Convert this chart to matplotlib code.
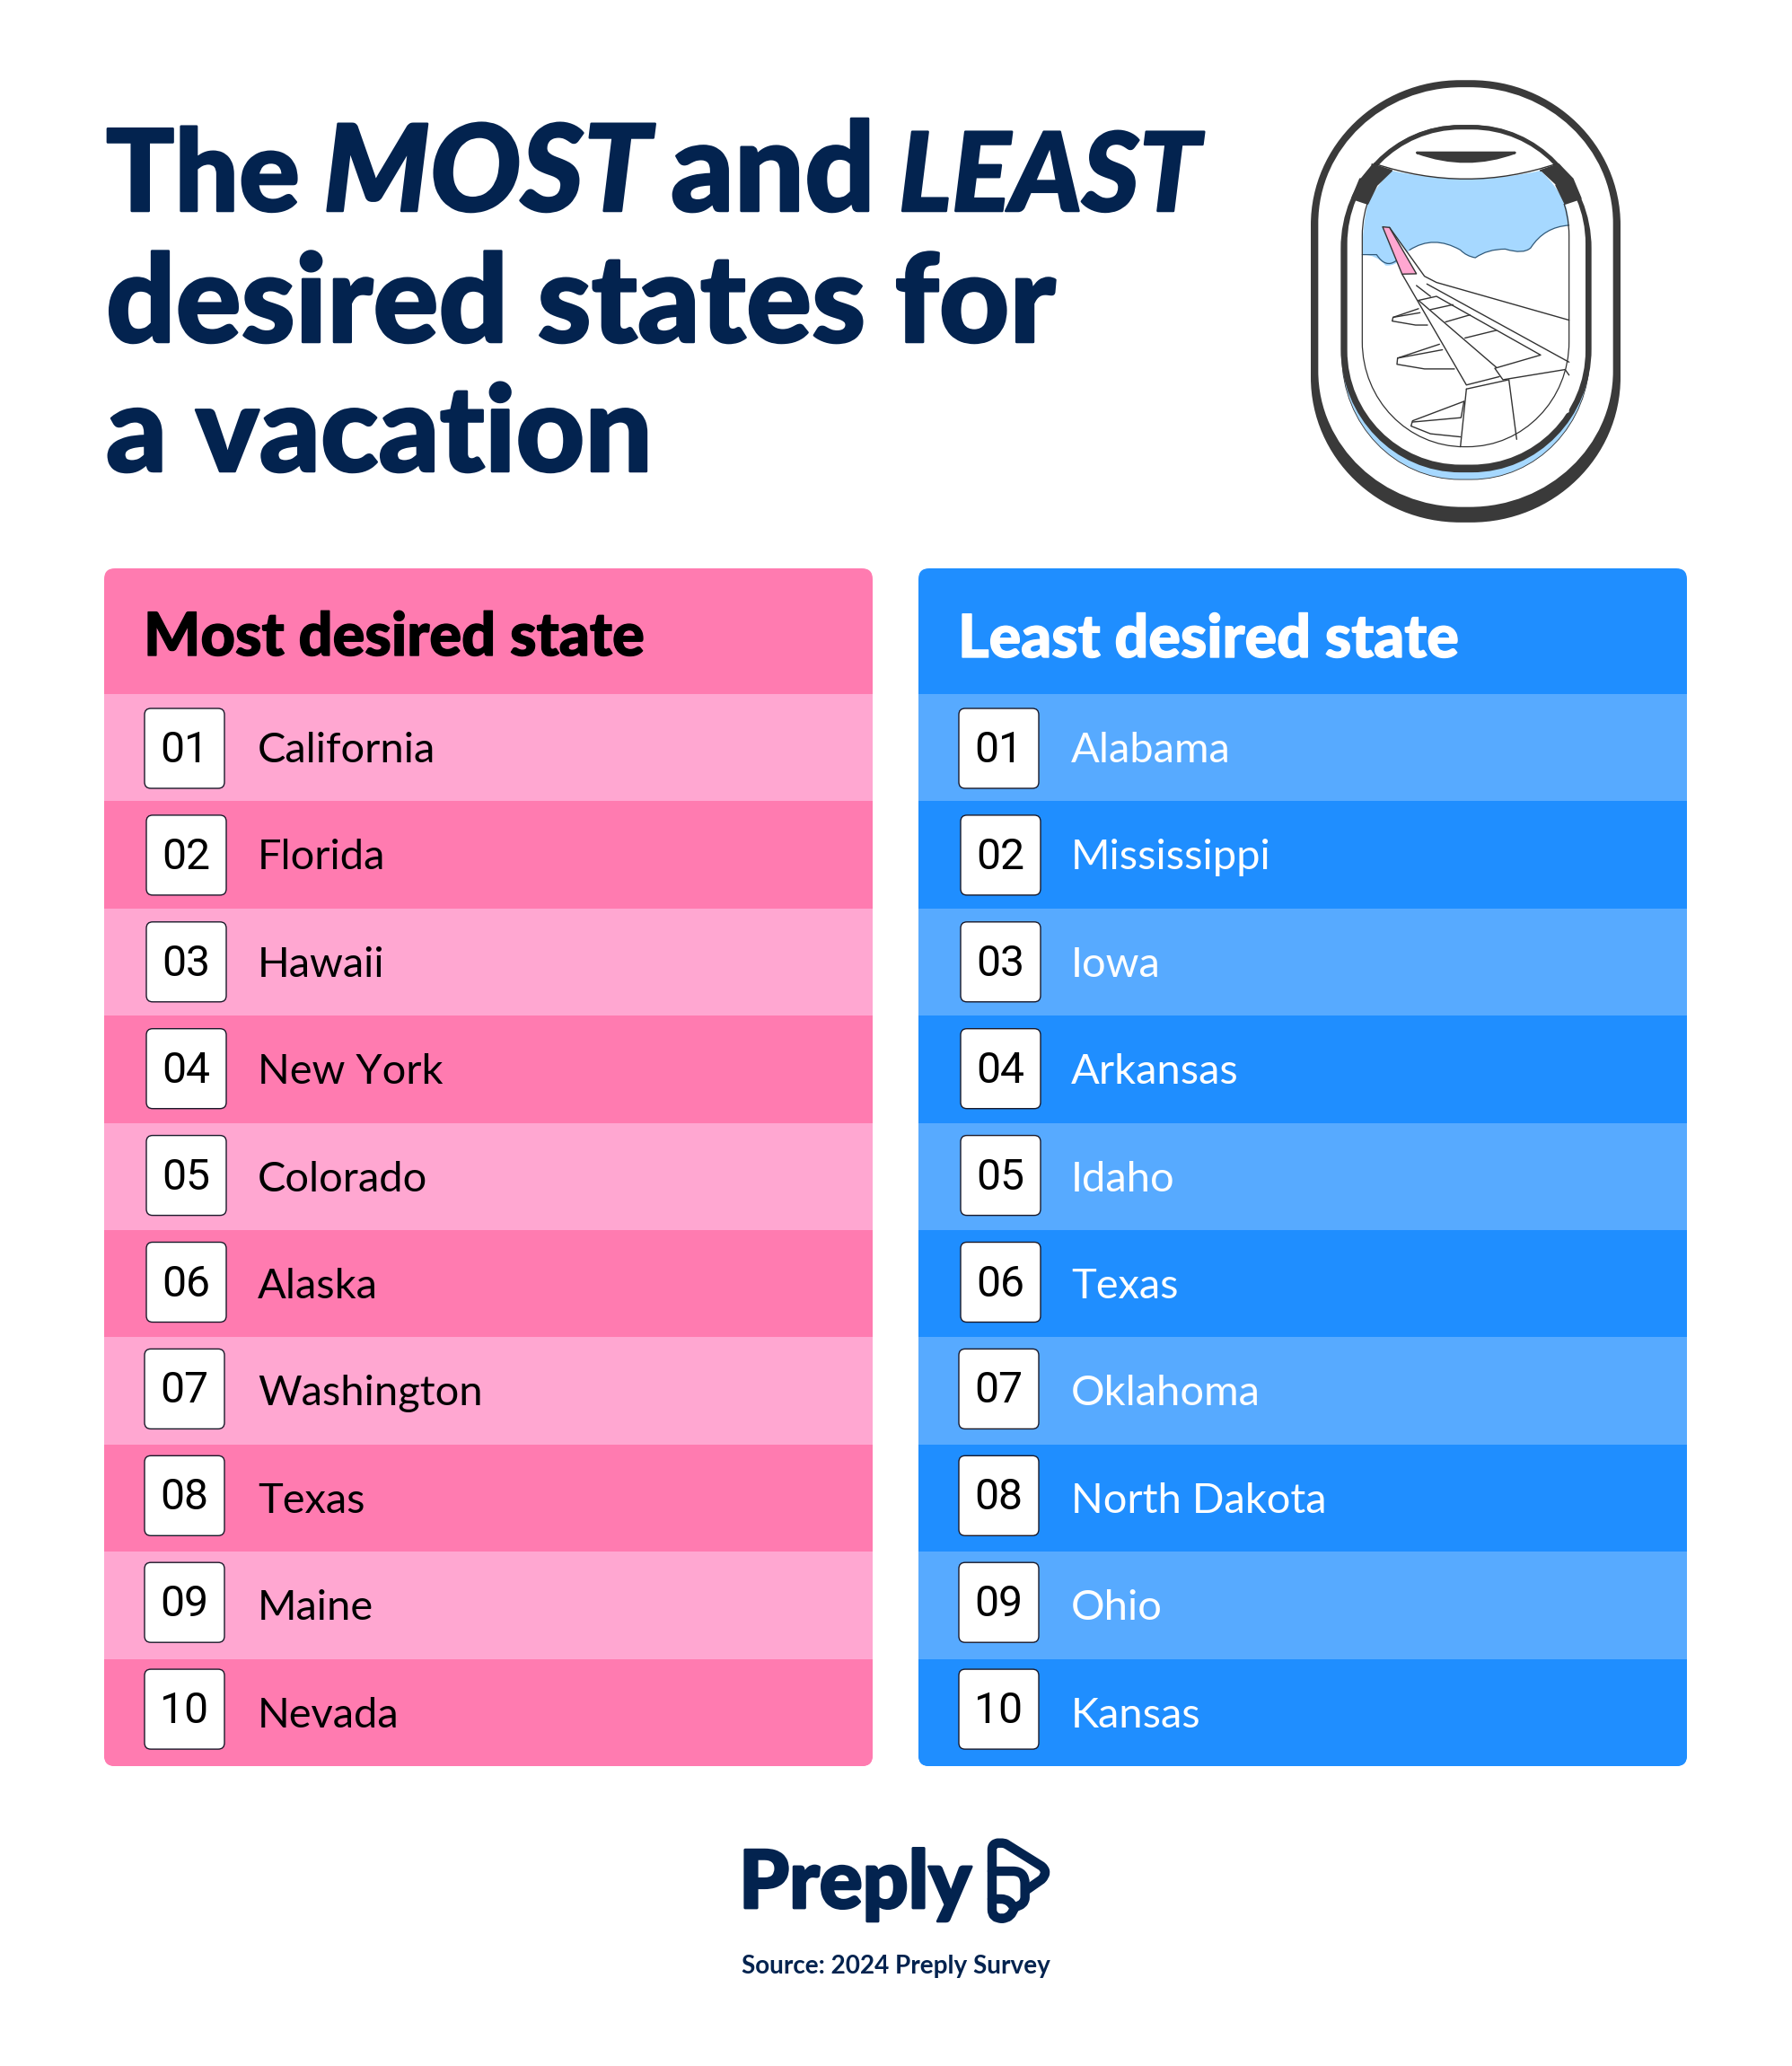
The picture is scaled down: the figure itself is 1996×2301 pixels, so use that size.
import matplotlib
matplotlib.use("Agg")
import matplotlib.pyplot as plt
import matplotlib.patheffects as pe
from matplotlib.patches import FancyBboxPatch, PathPatch, Rectangle
from matplotlib.path import Path

most_states = ["California", "Florida", "Hawaii", "New York", "Colorado",
               "Alaska", "Washington", "Texas", "Maine", "Nevada"]
least_states = ["Alabama", "Mississippi", "Iowa", "Arkansas", "Idaho",
                "Texas", "Oklahoma", "North Dakota", "Ohio", "Kansas"]
ranks = ["01", "02", "03", "04", "05", "06", "07", "08", "09", "10"]
box_shift = [0, 2, 2, 2, 2, 2, 0, 0, 0, 0]

NAVY = "#03234F"
W, H = 1996, 2301
FONT = "Lato"
PX = 0.72  # px -> pt at dpi 100

fig = plt.figure(figsize=(W / 100, H / 100), dpi=100, facecolor="white")
ax = fig.add_axes([0, 0, 1, 1])
ax.set_xlim(0, W)
ax.set_ylim(H, 0)
ax.axis("off")


def txt(x, y, s, px, color="black", weight="normal", style="normal", ha="left", family=FONT, fit=None, bold=0):
    t = ax.text(x, y, s, fontsize=px * PX, color=color, fontweight=weight, fontstyle=style,
                ha=ha, va="baseline", family=family, zorder=10)
    if fit is not None:
        r = fig.canvas.get_renderer()
        w = t.get_window_extent(r).width
        t.set_fontsize(px * PX * fit / w)
    if bold:
        t.set_path_effects([pe.withStroke(linewidth=bold, foreground=color)])
    return t


# ---------- title ----------
for x, s, st, wd in [(118, "The", "normal", 216), (360, "MOST", "italic", 365),
                     (747, "and", "normal", 228), (1001, "LEAST", "italic", 336)]:
    txt(x, 235, s, 135, NAVY, "black", st, fit=wd, bold=1.8)
txt(118, 381, "desired states for", 135, NAVY, "black", fit=1058, bold=1.8)
txt(118, 525, "a vacation", 135, NAVY, "black", fit=609, bold=1.8)


# ---------- panels ----------
def panel(x0, x1, header, states, dark, light, tcol, hy, xtxt):
    top, head_bot, rowh, bottom = 633, 773, 119.4, 1967
    clip = FancyBboxPatch((x0 + 12, top + 12), x1 - x0 - 24, bottom - top - 24,
                          boxstyle="round,pad=12,rounding_size=12", fc=dark, ec="none", zorder=1)
    ax.add_patch(clip)
    txt(x0 + 44, hy, header, 66, tcol, "black", fit=558, bold=1.0)
    for i, (state, rk) in enumerate(zip(states, ranks)):
        y0 = head_bot + i * rowh
        col = light if i % 2 == 0 else dark
        r = Rectangle((x0, y0), x1 - x0, rowh, fc=col, ec="none", zorder=2)
        ax.add_patch(r)
        r.set_clip_path(clip)
        bx = x0 + 45 + box_shift[i]
        by = 789 + i * 118.9
        ax.add_patch(FancyBboxPatch((bx + 7, by + 7), 75, 75, boxstyle="round,pad=7,rounding_size=7",
                                    fc="white", ec="#1a1a2a", lw=1.0, zorder=3))
        txt(bx + 44.5, by + 60, rk, 48, "black", ha="center", family="Roboto")
        txt(xtxt, y0 + 76, state, 47, tcol)


panel(116, 972, "Most desired state", most_states, "#FF7BB0", "#FFA7D1", "black", 730, 287)
panel(1023, 1879, "Least desired state", least_states, "#1F8EFF", "#57AAFF", "white", 732, 1193)


# ---------- illustration (crop coordinates) ----------
def zx(p):
    return (1400 + p[0] / 3, 60 + p[1] * 0.344)


def rr(x0, y0, x1, y1, rx, ry):
    k = 0.5523
    v = [(x0 + rx, y0), (x1 - rx, y0),
         (x1 - rx + k * rx, y0), (x1, y0 + ry - k * ry), (x1, y0 + ry), (x1, y1 - ry),
         (x1, y1 - ry + k * ry), (x1 - rx + k * rx, y1), (x1 - rx, y1), (x0 + rx, y1),
         (x0 + rx - k * rx, y1), (x0, y1 - ry + k * ry), (x0, y1 - ry), (x0, y0 + ry),
         (x0, y0 + ry - k * ry), (x0 + rx - k * rx, y0), (x0 + rx, y0), (x0 + rx, y0)]
    c = [Path.MOVETO, Path.LINETO, Path.CURVE4, Path.CURVE4, Path.CURVE4, Path.LINETO,
         Path.CURVE4, Path.CURVE4, Path.CURVE4, Path.LINETO,
         Path.CURVE4, Path.CURVE4, Path.CURVE4, Path.LINETO,
         Path.CURVE4, Path.CURVE4, Path.CURVE4, Path.CLOSEPOLY]
    return Path([zx(p) for p in v], c)


def add(path, fc="none", ec="none", lw=0, z=5):
    p = PathPatch(path, fc=fc, ec=ec, lw=lw, zorder=z, capstyle="round", joinstyle="round")
    ax.add_patch(p)
    return p


DARK = "#3A3A3A"
SKY = "#A6D8FF"
LN = "#333333"
add(rr(180, 85, 1215, 1517, 500, 470), fc=DARK)
add(rr(205, 108, 1190, 1467, 480, 440), fc="white")
add(rr(284, 232, 1112, 1378, 395, 400), fc=SKY, ec=LN, lw=0.6)
add(rr(280, 230, 1118, 1355, 400, 400), fc=DARK)
add(rr(302, 245, 1098, 1330, 380, 370), fc="white")
add(rr(352, 250, 1043, 1272, 340, 340), fc="white")
outline = add(rr(352, 250, 1043, 1272, 340, 340), ec=LN, lw=0.9, z=9)
_, cy = zx((0, 485))
outline.set_clip_path(Rectangle((1400, cy), 500, 500, transform=ax.transData))


def poly(pts, fc="none", ec=LN, lw=1.0, z=6, closed=False, curve=False):
    v = [zx(p) for p in pts]
    if curve:
        c = [Path.MOVETO] + [Path.CURVE3] * (len(v) - 1)
        if (len(v) - 1) % 2:
            c[-1] = Path.LINETO
    else:
        c = [Path.MOVETO] + [Path.LINETO] * (len(v) - 1)
    if closed:
        v = v + [v[0]]
        c = c + [Path.CLOSEPOLY]
    return add(Path(v, c), fc=fc, ec=ec, lw=lw, z=z)


# sky
sky_v = [(450, 378), (700, 432), (948, 378), (1000, 425), (1030, 485), (1043, 520), (1043, 555),
         (960, 560), (915, 628), (890, 650), (830, 632), (770, 632), (730, 660),
         (700, 655), (680, 635), (590, 585), (510, 635), (470, 690), (430, 685),
         (400, 650), (352, 650), (352, 560), (370, 485), (400, 425), (450, 378)]
sky_c = [Path.MOVETO] + [Path.CURVE3] * (len(sky_v) - 1)
add(Path([zx(p) for p in sky_v], sky_c), fc=SKY, ec="none", z=6)
poly([(1043, 555), (960, 560), (915, 628), (890, 650), (830, 632), (770, 632), (730, 660),
      (700, 655), (680, 635), (590, 585), (510, 635)], ec="#315A7A", curve=True, lw=0.9)
poly([(465, 670), (430, 695), (400, 650), (352, 650)], ec="#315A7A", lw=0.9, curve=True)
# shade curve
poly([(392, 355), (700, 455), (1003, 355)], ec=LN, curve=True)
# corners
poly([(385, 358), (450, 378), (400, 425), (370, 485), (318, 468), (345, 405)], fc=DARK, ec=DARK, lw=1.5)
poly([(948, 378), (1008, 358), (1055, 405), (1082, 468), (1030, 485), (1000, 425)], fc=DARK, ec=DARK, lw=1.5)
# handle
add(Path([zx(p) for p in [(535, 320), (862, 320), (700, 378), (535, 320), (535, 320)]],
         [Path.MOVETO, Path.LINETO, Path.CURVE3, Path.CURVE3, Path.CLOSEPOLY]),
    fc=DARK, ec=DARK, lw=2, z=7)
# wing (white body under lines)
poly([(443, 562), (500, 640), (560, 720), (600, 740), (1043, 862), (1043, 1160), (868, 1248),
      (680, 1272), (700, 1085), (485, 713), (420, 560)], fc="white", ec="none")
poly([(420, 560), (443, 562), (533, 712), (485, 713)], fc="#FFA7D1", ec=LN, closed=True, z=7)
for line in [
    [(443, 562), (560, 720), (600, 740), (1043, 862)],
    [(485, 713), (700, 1072), (810, 1045)],
    [(568, 745), (1043, 998)],
    [(533, 750), (580, 785)],
    [(540, 798), (600, 785), (948, 975), (795, 1018), (822, 1055), (1030, 1022), (1043, 1040)],
    [(540, 798), (800, 1015)],
    [(580, 828), (655, 812)],
    [(630, 868), (712, 845)],
    [(695, 920), (800, 895)],
    [(540, 825), (455, 853), (452, 865), (530, 878), (570, 878)],
    [(455, 853), (545, 838)],
    [(610, 940), (470, 985), (468, 1005), (560, 1020), (660, 1020)],
    [(470, 985), (620, 958)],
    [(692, 1125), (520, 1188), (515, 1205), (580, 1230), (680, 1240)],
    [(520, 1192), (680, 1178)],
    [(692, 1125), (682, 1178)],
    [(700, 1085), (680, 1272)],
    [(700, 1085), (842, 1055), (868, 1248)],
]:
    poly(line)


# ---------- logo ----------
def zl(p):
    return (780 + p[0] / 3, 2000 + p[1] / 3)


txt(823, 2125, "Preply", 100, NAVY, "black", fit=259, bold=2.0)
M, L, C = Path.MOVETO, Path.LINETO, Path.CURVE3
logo = [
    ([(1008, 410), (975, 410), (975, 380), (975, 180), (975, 150), (1020, 160), (1140, 235),
      (1165, 255), (1140, 280), (1090, 315)],
     [M, C, C, L, C, C, L, C, C, L]),
    ([(975, 252), (1045, 252), (1085, 252), (1085, 295), (1085, 340), (1085, 365), (1050, 372),
      (1040, 410), (1008, 410)],
     [M, L, C, C, L, C, C, C, C]),
    ([(975, 345), (1005, 345), (1035, 345), (1048, 375)], [M, L, C, C]),
]
for pts, codes in logo:
    ax.add_patch(PathPatch(Path([zl(p) for p in pts], codes), fc="none", ec=NAVY, lw=7.5,
                           capstyle="round", joinstyle="round", zorder=6))
txt(826, 2198, "Source: 2024 Preply Survey", 30, NAVY, "bold", fit=344)

fig.savefig("out.png", dpi=100, facecolor="white")
